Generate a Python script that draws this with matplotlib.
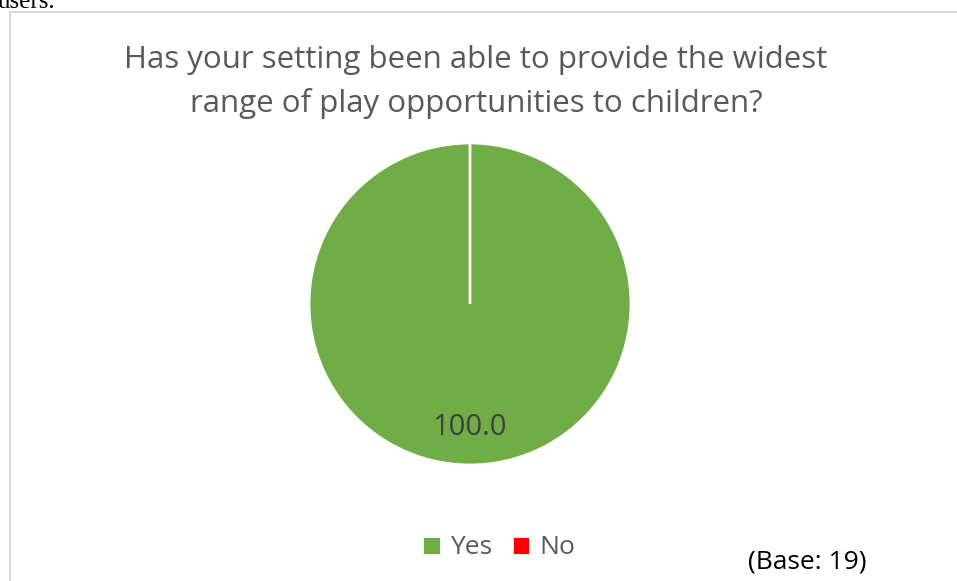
import matplotlib
matplotlib.use("Agg")
import matplotlib.pyplot as plt
from matplotlib.patches import Rectangle

# Chart data
labels = ["Yes", "No"]
values = [100.0, 0.0]
colors = ["#70ad47", "#ff0000"]
title = "Has your setting been able to provide the widest\nrange of play opportunities to children?"
base_note = "(Base: 19)"

plt.rcParams['font.family'] = ['Open Sans', 'DejaVu Sans']

fig = plt.figure(figsize=(9.57, 5.81), dpi=100)
W, H = 957, 581

# chart frame (only left/top visible in the crop)
fig.patches.append(Rectangle((10 / W, -0.1), 1.2, 1 - 12 / H + 0.1,
                             transform=fig.transFigure, fill=False,
                             edgecolor="#d9d9d9", linewidth=1.5, clip_on=False))

# cut-off text from the surrounding document
fig.text(-2 / W, 1 - 8 / H, "users.", family="Liberation Serif", fontsize=18,
         color="black", ha="left", va="baseline")

# pie axes
cx, cy, r = 470, 304, 161
ax = fig.add_axes([(cx - r) / W, (H - cy - r) / H, 2 * r / W, 2 * r / H])
wedges, texts, autotexts = ax.pie(
    values, colors=colors, startangle=90, counterclock=False,
    autopct=lambda p: f"{p:.1f}" if p > 0 else "", pctdistance=0.77,
    wedgeprops=dict(edgecolor="white", linewidth=2),
    textprops=dict(color="#404040", fontsize=21))
ax.set_xlim(-1, 1)
ax.set_ylim(-1, 1)
ax.set_aspect("equal")
ax.axis("off")

fig.text(476 / W, 1 - 82 / H, title, ha="center", va="center",
         fontsize=22.5, color="#595959", linespacing=1.55)

fig.legend(wedges, labels, loc="center", bbox_to_anchor=(499 / W, 1 - 548 / H),
           ncol=2, frameon=False, fontsize=19, handlelength=0.7, handleheight=0.7,
           handletextpad=0.35, columnspacing=0.75, labelcolor="#595959")

fig.text(807 / W, 1 - 562 / H, base_note, ha="center", va="center",
         fontsize=19, color="black")

fig.savefig("out.png", dpi=100)
